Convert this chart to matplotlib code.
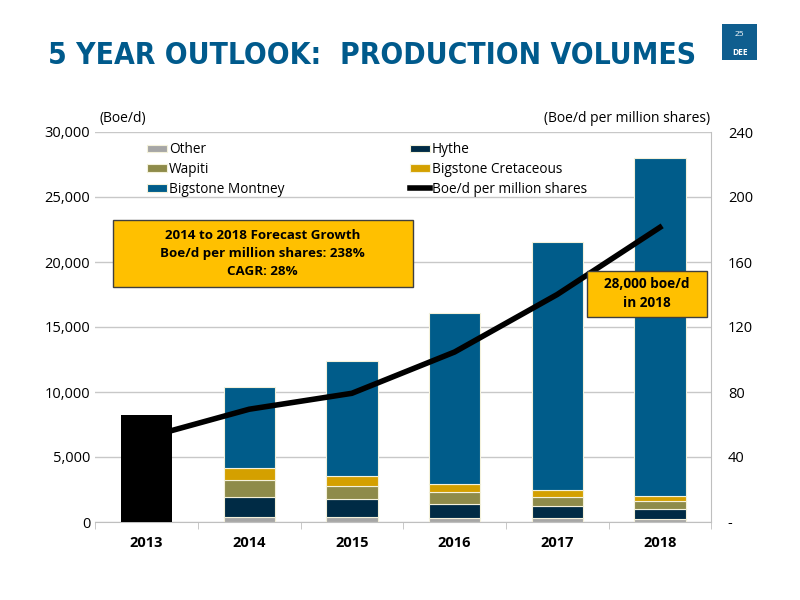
import matplotlib.pyplot as plt
from matplotlib.patches import Rectangle
import numpy as np

plt.rcParams['font.family'] = ['Open Sans', 'DejaVu Sans']

years = ['2013', '2014', '2015', '2016', '2017', '2018']
total_2013 = [8200, 0, 0, 0, 0, 0]
other = [0, 400, 360, 310, 280, 250]
hythe = [0, 1520, 1390, 1100, 930, 780]
wapiti = [0, 1310, 1020, 900, 740, 585]
cretaceous = [0, 900, 740, 640, 510, 405]
montney = [0, 6270, 8890, 13100, 19090, 25980]
per_share = [52, 69.4, 79.2, 104.6, 140, 181.3]

c_other = '#A6A6A6'
c_hythe = '#002B45'
c_wapiti = '#8E8B4A'
c_cret = '#D4A000'
c_montney = '#005C8A'
c_title = '#005A8C'

fig = plt.figure(figsize=(8, 6), dpi=100)
ax = fig.add_axes([0.119, 0.13, 0.77, 0.65])
ax2 = ax.twinx()
ax3 = ax.twinx()

x = np.arange(len(years))
w = 0.5
edge = dict(edgecolor='#F4F1DA', linewidth=0.8)

bottom = np.zeros(len(years))
h = {}
for vals, col, lab in [(other, c_other, 'Other'), (hythe, c_hythe, 'Hythe'),
                       (wapiti, c_wapiti, 'Wapiti'), (cretaceous, c_cret, 'Bigstone Cretaceous'),
                       (montney, c_montney, 'Bigstone Montney')]:
    v = np.array(vals, dtype=float)
    h[lab] = ax.bar(x[1:], v[1:], w, bottom=bottom[1:], color=col, zorder=2, **edge)
    bottom += v

ax.set_xlim(-0.5, len(years) - 0.5)
ax.set_ylim(0, 30000)
ax.set_yticks(range(0, 30001, 5000))
ax.set_yticklabels([f'{v:,}' for v in range(0, 30001, 5000)])
ax.set_xticks(x)
ax.set_xticklabels(years, fontweight='bold')
ax.set_xticks(np.arange(-0.5, len(years), 1), minor=True)
ax.tick_params(axis='x', which='major', length=0, pad=10)
ax.tick_params(axis='x', which='minor', length=5, color='#BFBFBF')
ax.tick_params(axis='y', length=0, labelsize=10.5)
ax.tick_params(axis='x', labelsize=10.5)
ax.grid(axis='y', color='#C8C8C8', linewidth=1)
ax.set_axisbelow(True)
for s in ['top', 'left', 'right']:
    ax.spines[s].set_visible(False)
ax.spines['bottom'].set_color('#BFBFBF')

# line on right axis, above the stacked bars
ax2.set_ylim(0, 240)
ax2.set_yticks(range(0, 241, 40))
ax2.set_yticklabels(['-'] + [str(v) for v in range(40, 241, 40)])
ax2.tick_params(axis='y', length=0, labelsize=10.5, pad=12)
for s in ['top', 'left', 'bottom']:
    ax2.spines[s].set_visible(False)
ax2.spines['right'].set_color('#BFBFBF')
ln, = ax2.plot(x, per_share, color='black', linewidth=4, zorder=3)

# 2013 actual bar sits on top of the line
ax3.set_ylim(0, 30000)
ax3.axis('off')
ax3.bar(x, total_2013, w, color='black')

ax.set_zorder(1)
ax2.set_zorder(2)
ax3.set_zorder(3)
ax2.patch.set_visible(False)
ax3.patch.set_visible(False)

leg = ax3.legend(handles=[h['Other'], h['Wapiti'], h['Bigstone Montney'],
                          h['Hythe'], h['Bigstone Cretaceous'], ln],
                 labels=['Other', 'Wapiti', 'Bigstone Montney',
                         'Hythe', 'Bigstone Cretaceous', 'Boe/d per million shares'],
                 ncol=2, loc='upper left', bbox_to_anchor=(0.065, 1.005), frameon=False,
                 fontsize=9.8, handlelength=1.45, handleheight=0.5, handletextpad=0.15,
                 columnspacing=9.2, labelspacing=0.35)

# annotations
fig.text(0.125, 0.797, '(Boe/d)', fontsize=10)
fig.text(0.888, 0.797, '(Boe/d per million shares)', fontsize=10, ha='right')

fig.patches.append(Rectangle((0.141, 0.522), 0.375, 0.112, transform=fig.transFigure,
                             facecolor='#FFC000', edgecolor='#3F3F3F', linewidth=1, zorder=5))
fig.text(0.3285, 0.578, '2014 to 2018 Forecast Growth\nBoe/d per million shares: 238%\nCAGR: 28%',
         ha='center', va='center', fontsize=9.6, fontweight='bold', linespacing=1.5, zorder=6)

fig.patches.append(Rectangle((0.734, 0.472), 0.150, 0.077, transform=fig.transFigure,
                             facecolor='#FFC000', edgecolor='#3F3F3F', linewidth=1, zorder=5))
fig.text(0.809, 0.511, '28,000 boe/d\nin 2018', ha='center', va='center', fontsize=9.8,
         fontweight='bold', linespacing=1.5, zorder=6)

fig.text(0.06, 0.908, '5 YEAR OUTLOOK:  PRODUCTION VOLUMES', fontsize=21.5, fontweight='bold',
         color=c_title, va='center', family=['DejaVu Sans'], fontstretch='condensed')

fig.patches.append(Rectangle((0.9025, 0.9), 0.044, 0.06, transform=fig.transFigure,
                             facecolor='#0F5E8F', edgecolor='none'))
fig.text(0.9245, 0.943, '25', color='white', fontsize=6, ha='center', va='center')
fig.text(0.9245, 0.913, 'DEE', color='white', fontsize=6, fontweight='bold',
         ha='center', va='center')

fig.savefig('out.png', dpi=100)
